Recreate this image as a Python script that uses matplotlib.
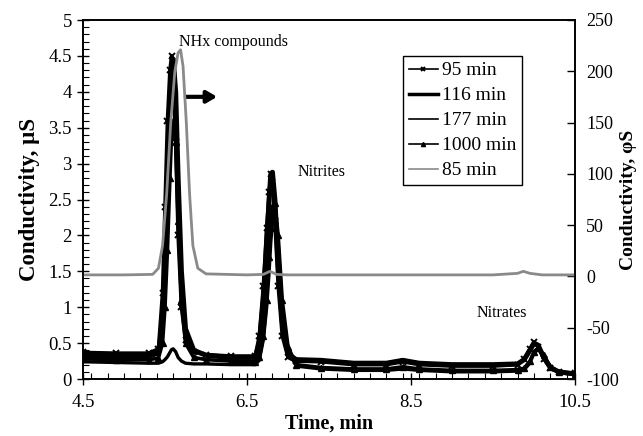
import matplotlib
matplotlib.use("Agg")
import matplotlib.pyplot as plt
from matplotlib.ticker import MultipleLocator, FixedLocator

plt.rcParams['font.family'] = ['Liberation Serif', 'DejaVu Serif']

# shared time grid for the black (left-axis) series, min
t_black = [4.5, 4.9, 5.3, 5.42, 5.47, 5.5, 5.53, 5.56, 5.58, 5.60,
           5.63, 5.66, 5.7, 5.75, 5.85, 6.0, 6.3, 6.6, 6.65, 6.7,
           6.74, 6.77, 6.79, 6.81, 6.84, 6.88, 6.93, 7.0, 7.1, 7.4,
           7.8, 8.2, 8.4, 8.6, 9.0, 9.5, 9.8, 9.88, 9.95, 10.0,
           10.05, 10.12, 10.2, 10.3, 10.5]

v_95 = [0.37, 0.36, 0.36, 0.42, 1.2, 2.4, 3.6, 4.3, 4.5, 4.3,
        3.3, 2.0, 1.0, 0.55, 0.38, 0.34, 0.32, 0.32, 0.6, 1.3,
        2.1, 2.6, 2.85, 2.75, 2.2, 1.3, 0.6, 0.3, 0.25, 0.24,
        0.2, 0.2, 0.24, 0.2, 0.18, 0.18, 0.2, 0.28, 0.42, 0.51,
        0.45, 0.28, 0.15, 0.1, 0.08]

v_116 = [0.33, 0.32, 0.32, 0.36, 0.8, 1.6, 2.8, 3.8, 4.3, 4.45,
         4.0, 2.8, 1.5, 0.7, 0.4, 0.33, 0.3, 0.3, 0.5, 1.1,
         1.9, 2.5, 2.85, 2.88, 2.5, 1.6, 0.8, 0.35, 0.27, 0.26,
         0.22, 0.22, 0.26, 0.22, 0.2, 0.2, 0.21, 0.27, 0.4, 0.5,
         0.47, 0.3, 0.16, 0.1, 0.07]

v_177 = [0.24, 0.23, 0.22, 0.22, 0.24, 0.27, 0.31, 0.37, 0.41, 0.42,
         0.38, 0.3, 0.25, 0.22, 0.21, 0.21, 0.2, 0.2, 0.26, 0.55,
         1.0, 1.5, 1.9, 2.2, 2.3, 1.9, 1.0, 0.4, 0.18, 0.14,
         0.12, 0.12, 0.14, 0.12, 0.1, 0.1, 0.11, 0.13, 0.22, 0.36,
         0.42, 0.32, 0.16, 0.09, 0.06]

v_1000 = [0.28, 0.27, 0.27, 0.29, 0.5, 1.0, 1.8, 2.8, 3.4, 3.6,
          3.3, 2.2, 1.1, 0.5, 0.3, 0.27, 0.25, 0.24, 0.3, 0.6,
          1.1, 1.7, 2.1, 2.4, 2.45, 2.0, 1.1, 0.45, 0.2, 0.16,
          0.14, 0.14, 0.17, 0.14, 0.12, 0.12, 0.13, 0.15, 0.25, 0.38,
          0.43, 0.33, 0.17, 0.1, 0.07]

# gray series on right axis
t_85 = [4.5, 5.0, 5.35, 5.42, 5.47, 5.52, 5.57, 5.62, 5.66, 5.69,
        5.72, 5.76, 5.8, 5.84, 5.9, 6.0, 6.5, 6.7, 6.78, 6.86,
        7.0, 8.0, 9.5, 9.8, 9.87, 9.95, 10.1, 10.5]
v_85 = [1.5, 1.5, 2, 8, 30, 80, 150, 200, 218, 221,
        205, 150, 80, 30, 8, 2.5, 1.5, 2, 5, 2,
        1.5, 1.5, 1.5, 3, 5, 3, 1.5, 1.5]

x_ticks = [4.5, 6.5, 8.5, 10.5]
y_left_ticks = [0, 0.5, 1, 1.5, 2, 2.5, 3, 3.5, 4, 4.5, 5]
y_right_ticks = [-100, -50, 0, 50, 100, 150, 200, 250]

fig = plt.figure(figsize=(6.43, 4.36), dpi=100)
ax = fig.add_axes([83/643, 1-379/436, (575-83)/643, (379-20)/436])
ax2 = ax.twinx()

l95, = ax.plot(t_black, v_95, color='black', lw=2.6, marker='x', ms=5, mew=1.4, label='95 min')
l116, = ax.plot(t_black, v_116, color='black', lw=3.6, label='116 min')
l177, = ax.plot(t_black, v_177, color='black', lw=2.4, label='177 min')
l1000, = ax.plot(t_black, v_1000, color='black', lw=2.6, marker='^', ms=4.5, label='1000 min')
l85, = ax2.plot(t_85, v_85, color='#8a8a8a', lw=2.0, label='85 min')

ax.set_xlim(4.5, 10.5)
ax.set_ylim(0, 5)
ax2.set_ylim(-100, 250)

ax.xaxis.set_major_locator(FixedLocator(x_ticks))
ax.xaxis.set_minor_locator(MultipleLocator(0.2))
ax.yaxis.set_major_locator(FixedLocator(y_left_ticks))
ax.yaxis.set_minor_locator(MultipleLocator(0.1))
ax2.yaxis.set_major_locator(FixedLocator(y_right_ticks))

ax.set_xticklabels([f"{v:g}" for v in x_ticks])
ax.set_yticklabels([f"{v:g}" for v in y_left_ticks])
ax2.set_yticklabels([f"{v:g}" for v in y_right_ticks])

ax.tick_params(axis='both', which='major', direction='inout', length=8, width=1, labelsize=13.5, pad=4)
ax.tick_params(axis='x', which='major', pad=7)
ax.tick_params(axis='both', which='minor', direction='in', length=4, width=0.8)
ax2.tick_params(axis='y', which='major', direction='in', length=6, width=1, labelsize=13, pad=8)
ax2.tick_params(axis='y', which='minor', right=False)

for a in (ax, ax2):
    for s in a.spines.values():
        s.set_linewidth(1.2)

ax.set_xlabel('Time, min', fontsize=14.5, fontweight='bold', labelpad=2)
ax.set_ylabel('Conductivity, µS', fontsize=16.5, fontweight='bold', labelpad=6)
ax2.set_ylabel('Conductivity, φS', fontsize=14, fontweight='bold', labelpad=1)

ax.annotate('', xy=(6.17, 3.93), xytext=(5.72, 3.93),
            arrowprops=dict(arrowstyle='-|>,head_width=0.35,head_length=0.6', lw=3, color='black'))
ax.text(6.33, 4.69, 'NHx compounds', fontsize=11.5, ha='center', va='center')
ax.text(7.41, 2.88, 'Nitrites', fontsize=11.5, ha='center', va='center')
ax.text(9.61, 0.92, 'Nitrates', fontsize=11.5, ha='center', va='center')

leg = ax2.legend(handles=[l95, l116, l177, l1000, l85], loc='upper left',
                 bbox_to_anchor=(0.65, 0.90), borderaxespad=0, fancybox=False,
                 framealpha=1, edgecolor='black', fontsize=14, handlelength=1.5,
                 handletextpad=0.2, labelspacing=0.38, borderpad=0.3)
leg.get_frame().set_linewidth(1.0)
for h in leg.legend_handles:
    h.set_linewidth(1.2 if h.get_label() != '116 min' else 2.5)
    h.set_markersize(3)

fig.savefig('out.png', dpi=100)
